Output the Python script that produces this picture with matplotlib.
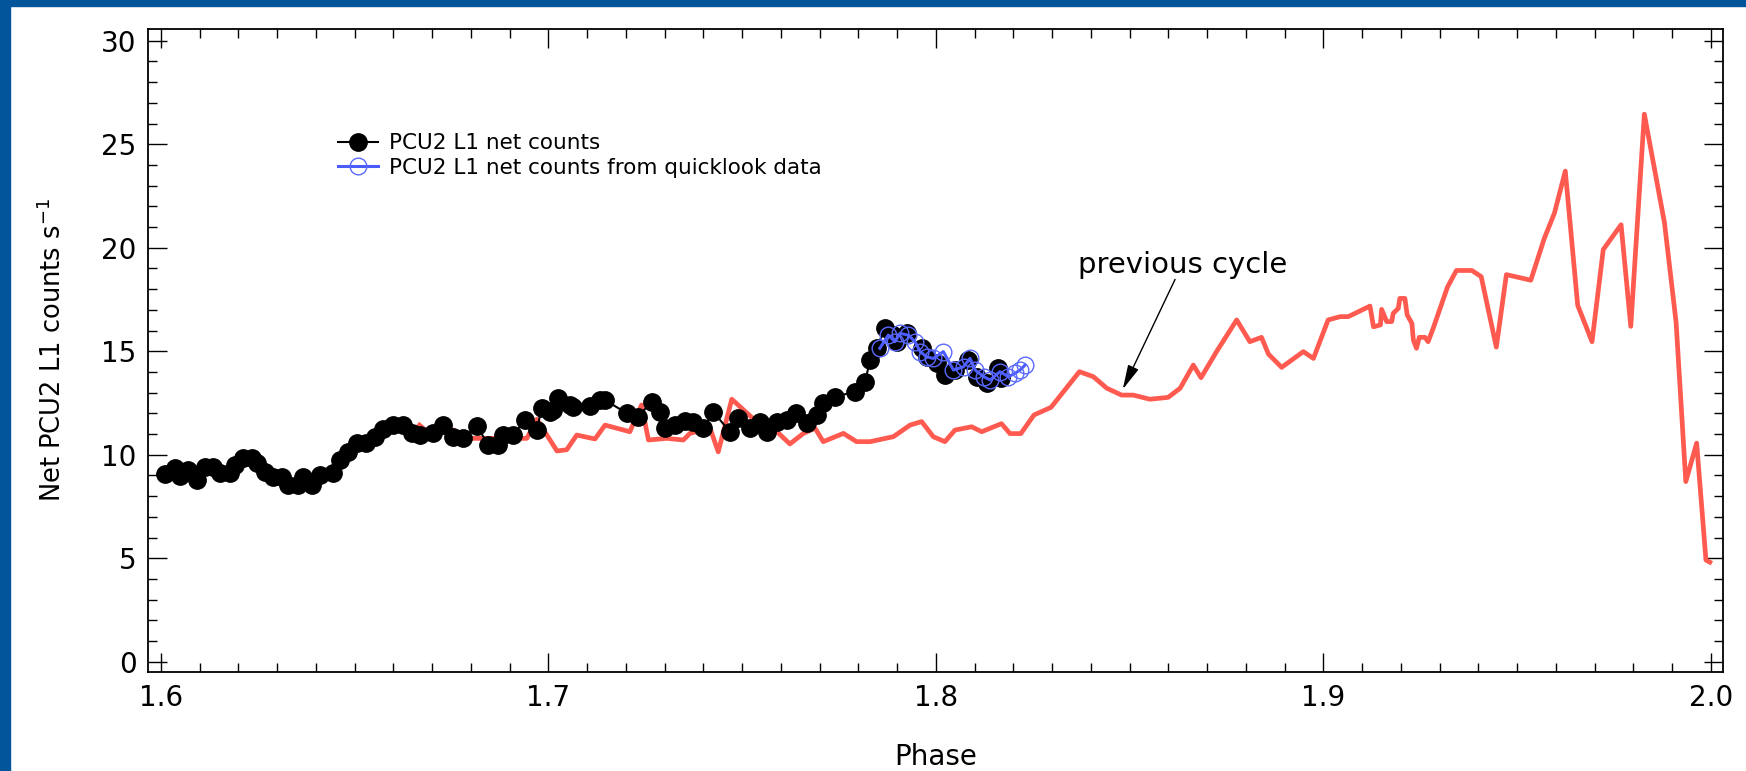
import numpy as np
import matplotlib
matplotlib.use("Agg")
import matplotlib.pyplot as plt
from matplotlib.patches import Rectangle
from matplotlib.ticker import MultipleLocator

# PCU2 L1 net counts (black filled circles)
phase_net = [1.6010, 1.6036, 1.6049, 1.6070, 1.6092, 1.6114, 1.6135, 1.6152, 1.6178, 1.6190,
             1.6212, 1.6234, 1.6247, 1.6268, 1.6290, 1.6311, 1.6329, 1.6354, 1.6367, 1.6389,
             1.6410, 1.6445, 1.6462, 1.6483, 1.6505, 1.6530, 1.6552, 1.6574, 1.6600, 1.6625,
             1.6647, 1.6668, 1.6703, 1.6729, 1.6754, 1.6780, 1.6815, 1.6845, 1.6870, 1.6883,
             1.6909, 1.6939, 1.6970, 1.6982, 1.7004, 1.7012, 1.7025, 1.7055, 1.7064, 1.7107,
             1.7133, 1.7146, 1.7202, 1.7232, 1.7266, 1.7288, 1.7300, 1.7326, 1.7352, 1.7374,
             1.7400, 1.7425, 1.7468, 1.7490, 1.7520, 1.7546, 1.7563, 1.7589, 1.7615, 1.7640,
             1.7666, 1.7692, 1.7709, 1.7739, 1.7791, 1.7817, 1.7830, 1.7847, 1.7868, 1.7890,
             1.7899, 1.7924, 1.7963, 1.7976, 1.8002, 1.8023, 1.8049, 1.8083, 1.8105, 1.8131,
             1.8161, 1.8169]
counts_net = [9.07, 9.34, 8.97, 9.26, 8.78, 9.39, 9.39, 9.10, 9.10, 9.50,
              9.83, 9.83, 9.58, 9.18, 8.94, 8.94, 8.54, 8.54, 8.94, 8.54,
              9.02, 9.10, 9.74, 10.14, 10.55, 10.55, 10.87, 11.23, 11.43, 11.43,
              11.03, 10.95, 11.03, 11.43, 10.84, 10.79, 11.39, 10.47, 10.47, 10.95,
              10.95, 11.68, 11.19, 12.24, 12.08, 12.16, 12.72, 12.40, 12.32, 12.36,
              12.64, 12.64, 12.00, 11.84, 12.56, 12.08, 11.28, 11.43, 11.64, 11.60,
              11.28, 12.08, 11.11, 11.76, 11.28, 11.60, 11.11, 11.60, 11.68, 12.00,
              11.52, 11.92, 12.48, 12.80, 13.04, 13.53, 14.57, 15.14, 16.10, 15.78,
              15.46, 15.86, 15.14, 14.73, 14.41, 13.85, 14.09, 14.57, 13.77, 13.45,
              14.17, 13.69]

# PCU2 L1 net counts from quicklook data (blue open circles)
phase_quick = [1.7855, 1.7877, 1.7894, 1.7907, 1.7928, 1.7946, 1.7959, 1.7976, 1.7993, 1.8019,
               1.8045, 1.8071, 1.8088, 1.8101, 1.8123, 1.8140, 1.8165, 1.8187, 1.8204, 1.8217,
               1.8230]
counts_quick = [15.14, 15.78, 15.46, 15.86, 15.78, 15.46, 14.98, 14.73, 14.65, 14.98,
                14.09, 14.25, 14.65, 14.09, 13.77, 13.61, 14.01, 13.77, 13.93, 14.09,
                14.33]

# previous cycle (red line)
phase_prev = [1.6667, 1.6699, 1.6724, 1.6802, 1.6944, 1.6970, 1.7022, 1.7047, 1.7073, 1.7120,
              1.7146, 1.7210, 1.7240, 1.7258, 1.7305, 1.7348, 1.7365, 1.7417, 1.7438, 1.7473,
              1.7541, 1.7580, 1.7623, 1.7658, 1.7688, 1.7709, 1.7761, 1.7795, 1.7830, 1.7890,
              1.7933, 1.7963, 1.7993, 1.8023, 1.8049, 1.8092, 1.8118, 1.8169, 1.8191, 1.8219,
              1.8253, 1.8297, 1.8370, 1.8406, 1.8441, 1.8479, 1.8509, 1.8552, 1.8599, 1.8630,
              1.8664, 1.8684, 1.8724, 1.8776, 1.8810, 1.8840, 1.8858, 1.8892, 1.8948, 1.8974,
              1.9012, 1.9043, 1.9064, 1.9120, 1.9129, 1.9147, 1.9150, 1.9163, 1.9176, 1.9180,
              1.9193, 1.9197, 1.9210, 1.9216, 1.9228, 1.9232, 1.9240, 1.9247, 1.9262, 1.9270,
              1.9283, 1.9320, 1.9343, 1.9383, 1.9407, 1.9446, 1.9472, 1.9535, 1.9570, 1.9596,
              1.9624, 1.9656, 1.9693, 1.9722, 1.9768, 1.9793, 1.9828, 1.9880, 1.9910, 1.9935,
              1.9963, 1.9987, 1.9997]
counts_prev = [11.43, 10.90, 11.43, 10.79, 10.79, 11.71, 10.18, 10.24, 10.95, 10.76,
               11.43, 11.11, 12.40, 10.71, 10.79, 10.71, 11.03, 11.28, 10.14, 12.68,
               11.52, 11.28, 10.52, 11.03, 11.28, 10.63, 11.03, 10.63, 10.63, 10.87,
               11.43, 11.60, 10.87, 10.63, 11.19, 11.35, 11.11, 11.50, 11.02, 11.02,
               11.92, 12.29, 14.01, 13.77, 13.21, 12.88, 12.88, 12.68, 12.77, 13.21,
               14.33, 13.72, 14.98, 16.51, 15.46, 15.67, 14.86, 14.22, 14.98, 14.65,
               16.51, 16.67, 16.67, 17.18, 16.18, 16.27, 17.02, 16.43, 16.43, 16.83,
               17.07, 17.55, 17.55, 16.75, 16.35, 15.54, 15.14, 15.67, 15.67, 15.46,
               16.10, 18.10, 18.90, 18.90, 18.60, 15.20, 18.70, 18.43, 20.46, 21.67,
               23.70, 17.22, 15.46, 19.91, 21.11, 16.20, 26.45, 21.20, 16.39, 8.70,
               10.56, 4.91, 4.81]

plt.rcParams['font.family'] = ['DejaVu Sans']
plt.rcParams['mathtext.fontset'] = 'dejavusans'

fig = plt.figure(figsize=(17.46, 7.71), dpi=100)
fig.patch.set_facecolor('white')
# blue frame on top and left
fig.patches.append(Rectangle((0, 1 - 6 / 771), 1, 6 / 771, transform=fig.transFigure,
                             color='#02559A', zorder=0))
fig.patches.append(Rectangle((0, 0), 10 / 1746, 1, transform=fig.transFigure,
                             color='#02559A', zorder=0))

ax = fig.add_axes([147.7 / 1746, (771 - 671.7) / 771,
                   (1723 - 147.7) / 1746, (671.7 - 28.7) / 771])

ax.plot(phase_prev, counts_prev, color='#FF5A4F', lw=3.4, zorder=2)
ax.plot(phase_net, counts_net, color='black', lw=1.5, marker='o', ms=12.5,
        mfc='black', mec='black', zorder=3, label='PCU2 L1 net counts')
ax.plot(phase_quick, counts_quick, color='#4A5BFF', lw=2.2, marker='o', ms=12,
        mfc='none', mec='#5A6AFF', mew=1.0, zorder=4,
        label='PCU2 L1 net counts from quicklook data')

ax.set_xlim(1.59657, 2.0031)
ax.set_ylim(-0.483, 30.58)

ax.xaxis.set_major_locator(MultipleLocator(0.1))
ax.xaxis.set_minor_locator(MultipleLocator(0.01))
ax.yaxis.set_major_locator(MultipleLocator(5))
ax.yaxis.set_minor_locator(MultipleLocator(1))
ax.xaxis.set_major_formatter(plt.FuncFormatter(lambda v, p: f"{v:.1f}"))
ax.yaxis.set_major_formatter(plt.FuncFormatter(lambda v, p: f"{v:.0f}"))

ax.tick_params(which='both', direction='in', top=True, right=True, width=1.0,
               labelsize=20, colors='black')
ax.tick_params(which='major', length=14)
ax.tick_params(which='minor', length=6.5)
ax.tick_params(axis='x', which='major', pad=9)
ax.tick_params(axis='y', which='major', pad=8)
for s in ax.spines.values():
    s.set_linewidth(1.3)

ax.set_xlabel('Phase', fontsize=20)
ax.xaxis.set_label_coords(0.5, -0.1327)
ax.xaxis.label.set_va('center')
ax.set_ylabel(r'Net PCU2 L1 counts s$^{-1}$', fontsize=18.5)
ax.yaxis.set_label_coords(-0.060, 0.5)
ax.yaxis.label.set_va('center')

ax.annotate('', xy=(1.8482, 13.16), xytext=(1.8617, 18.47),
            arrowprops=dict(arrowstyle='-|>,head_length=1.5,head_width=0.35',
                            color='black', lw=1.0, shrinkA=0, shrinkB=0))
ax.text(1.8637, 18.79, 'previous cycle', fontsize=21, ha='center', va='baseline')

ax.legend(loc='center left', bbox_to_anchor=(337.5 / 1746, 1 - 155.5 / 771),
          bbox_transform=fig.transFigure, frameon=False, fontsize=15.5,
          numpoints=1, handlelength=1.9, handletextpad=0.5, labelspacing=0.2,
          borderpad=0, borderaxespad=0)

fig.savefig('out.png', dpi=100)
